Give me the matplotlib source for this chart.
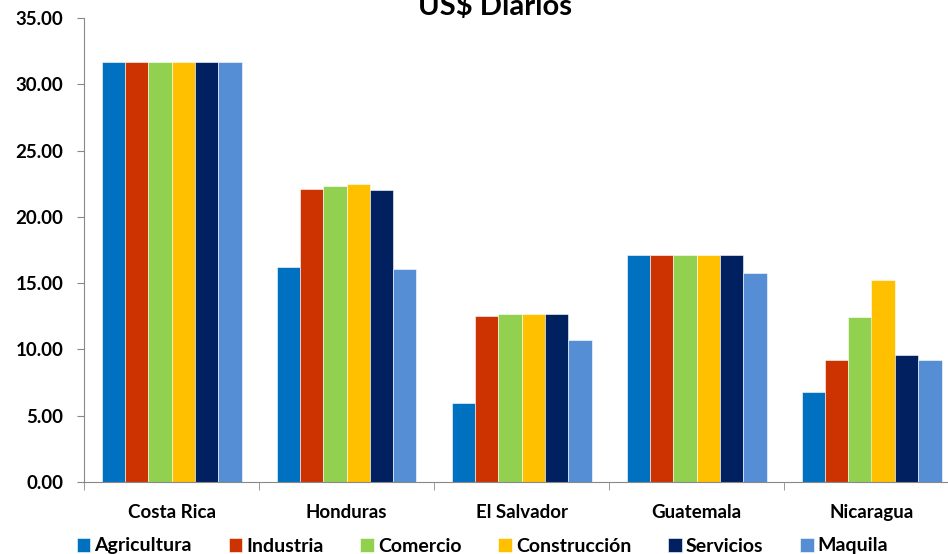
import numpy as np
import matplotlib.pyplot as plt
from matplotlib.ticker import FormatStrFormatter, FixedLocator

paises = ['Costa Rica', 'Honduras', 'El Salvador', 'Guatemala', 'Nicaragua']
agricultura = [31.7, 16.2, 5.95, 17.1, 6.8]
industria = [31.7, 22.1, 12.5, 17.1, 9.2]
comercio = [31.7, 22.3, 12.7, 17.1, 12.45]
construccion = [31.7, 22.45, 12.7, 17.1, 15.2]
servicios = [31.7, 22.0, 12.7, 17.1, 9.55]
maquila = [31.7, 16.1, 10.7, 15.75, 9.2]

series = [('Agricultura', agricultura, '#0070C0'),
          ('Industria', industria, '#CC3300'),
          ('Comercio', comercio, '#92D050'),
          ('Construcción', construccion, '#FFC000'),
          ('Servicios', servicios, '#002060'),
          ('Maquila', maquila, '#558ED5')]

plt.rcParams['font.family'] = ['Lato', 'DejaVu Sans']
plt.rcParams['font.weight'] = 'bold'

fig = plt.figure(figsize=(9.48, 5.54), dpi=100)
ax = fig.add_axes([84/948, 72/554, 875/948, 464/554])

x = np.arange(len(paises))
w = 0.8 / len(series)
for i, (nombre, vals, col) in enumerate(series):
    ax.bar(x - 0.4 + w * (i + 0.5), vals, width=w, color=col,
           edgecolor='white', linewidth=0.4, label=nombre)

ax.set_xlim(-0.5, 4.5)
ax.set_ylim(0, 35)
ax.set_yticks(np.arange(0, 36, 5))
ax.yaxis.set_major_formatter(FormatStrFormatter('%.2f'))
ax.set_xticks(x)
ax.set_xticklabels(paises)
ax.xaxis.set_minor_locator(FixedLocator(np.arange(-0.5, 5, 1)))
ax.tick_params(axis='x', which='major', length=0, pad=16, labelsize=13.5)
ax.tick_params(axis='x', which='minor', length=6, color='#888888')
ax.tick_params(axis='y', length=5, color='#888888', labelsize=13.5, pad=10)
for s in ['top', 'right']:
    ax.spines[s].set_visible(False)
for s in ['left', 'bottom']:
    ax.spines[s].set_color('#888888')

fig.text(495/948, 1 - 15/554, 'US$ Diarios', ha='center', va='baseline',
         fontsize=21, fontweight='bold')

fig.legend(loc='center', bbox_to_anchor=(0.509, 8/554), ncol=6, frameon=False,
           fontsize=14, handlelength=0.7, handleheight=0.7, handletextpad=0.2,
           columnspacing=1.9)

fig.savefig('out.png', dpi=100)
